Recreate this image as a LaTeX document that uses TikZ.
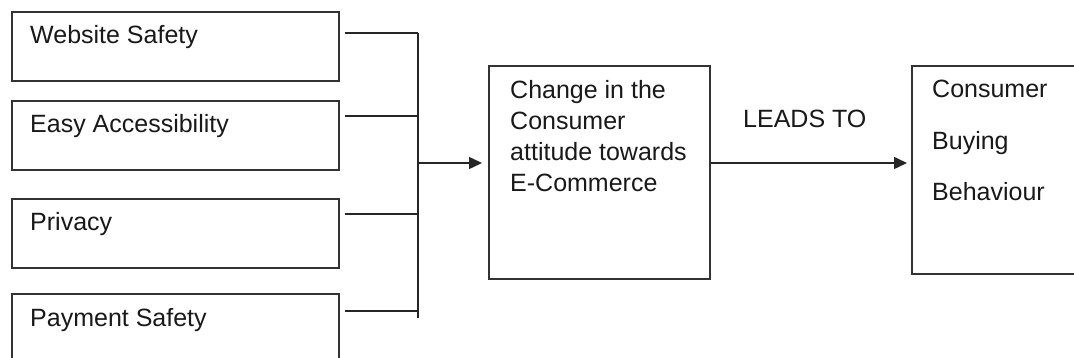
\documentclass[tikz,border=0pt]{standalone}
\usepackage{fontspec}
\setmainfont{Liberation Sans}
\usetikzlibrary{arrows.meta,calc}
\begin{document}
\begin{tikzpicture}[x=1pt,y=-1pt,
  box/.style={draw=black!80,line width=1.6pt,rectangle,inner sep=0pt,anchor=north west},
  lbl/.style={anchor=base west,inner sep=0pt,font=\fontsize{25}{31.3}\selectfont,align=left,text=black!90},
  conn/.style={draw=black!85,line width=1.5pt},
  arr/.style={conn,-{Triangle[length=13pt,width=12pt]}}]
\fill[white] (0,0) rectangle (1074,358);
\useasboundingbox (0,0) rectangle (1074,358);
\clip (0,0) rectangle (1074,358);
% left boxes
\node[box,minimum width=327pt,minimum height=69pt] (b1) at (11,11) {};
\node[box,minimum width=327pt,minimum height=69pt] (b2) at (11,100) {};
\node[box,minimum width=327pt,minimum height=69pt] (b3) at (11,198) {};
\node[box,minimum width=327pt,minimum height=100pt] (b4) at (11,293) {};
\node[lbl] (t1) at (30,44) {Website Safety};
\node[lbl] (t2) at (30,133) {Easy Accessibility};
\node[lbl] (t3) at (30,231) {Privacy};
\node[lbl] (t4) at (30,326) {Payment Safety};
% centre box (base anchor = baseline of last line)
\node[box,minimum width=221pt,minimum height=213pt] (c) at (488,65) {};
\node[lbl] (tc) at (510,192) {Change in the\\Consumer\\attitude towards\\E-Commerce};
% right box
\node[box,minimum width=200pt,minimum height=208pt] (r) at (911,65) {};
\node[lbl,font=\fontsize{25}{51.5}\selectfont] (tr) at (932,201) {Consumer\\Buying\\Behaviour};
% label
\node[lbl] (lt) at (743,128) {LEADS TO};
% connector start points
\coordinate (s1) at ([shift={(5,22)}]b1.north east);
\coordinate (s2) at ([shift={(5,16)}]b2.north east);
\coordinate (s3) at ([shift={(5,16)}]b3.north east);
\coordinate (s4) at ([shift={(5,18)}]b4.north east);
% bus
\coordinate (bt) at (418,33);
\coordinate (bb) at (418,318);
\coordinate (bm) at (418,163);
\draw[conn] (bt) -- (bb);
\draw[conn] (s1) -- (bt |- s1);
\draw[conn] (s2) -- (bt |- s2);
\draw[conn] (s3) -- (bt |- s3);
\draw[conn] (s4) -- (bt |- s4);
\draw[arr,shorten >=6pt] (bm) -- (c.west |- bm);
\draw[arr,shorten >=4pt] (c.east |- bm) -- (r.west |- bm);
\end{tikzpicture}
\end{document}
